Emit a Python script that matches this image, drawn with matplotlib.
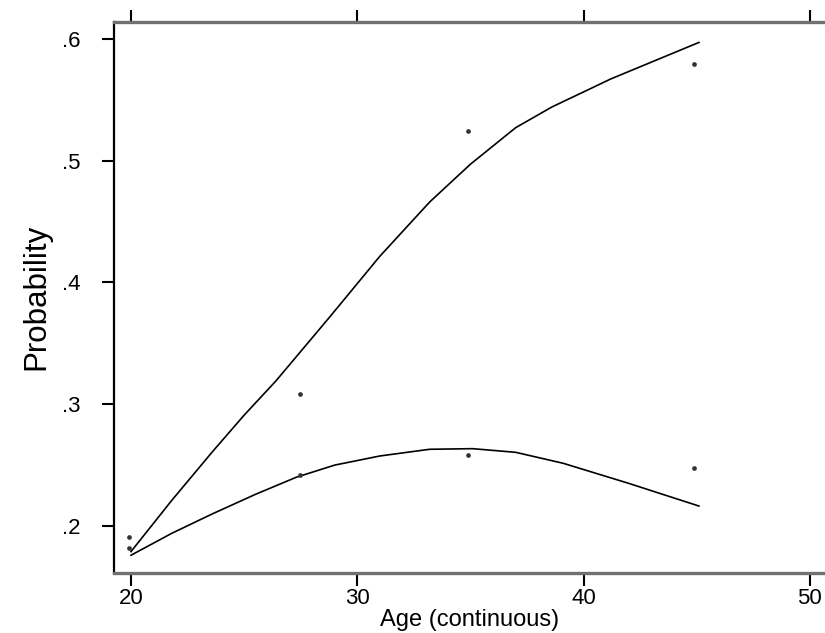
import matplotlib.pyplot as plt
import numpy as np

plt.rcParams['font.family'] = ['Liberation Sans', 'DejaVu Sans']

# observed proportions (dots)
age_obs = [19.9, 19.9, 27.45, 27.45, 34.9, 34.9, 44.9, 44.9]
prob_obs = [0.191, 0.182, 0.308, 0.242, 0.524, 0.258, 0.579, 0.248]

# fitted curves
age_up = [20.0, 21.8, 23.6, 25.0, 26.4, 28.8, 31.0, 33.2, 35.0, 37.0, 38.6, 40.3, 41.2, 42.5, 45.1]
prob_up = [0.179, 0.221, 0.261, 0.291, 0.319, 0.372, 0.4215, 0.466, 0.497, 0.527, 0.544, 0.559, 0.567, 0.577, 0.597]

age_lo = [20.0, 21.8, 23.6, 25.5, 27.3, 29.0, 31.0, 33.2, 35.1, 37.0, 39.1, 42.0, 45.1]
prob_lo = [0.176, 0.194, 0.210, 0.226, 0.2400, 0.2500, 0.2575, 0.2630, 0.2635, 0.2605, 0.2515, 0.235, 0.2164]

xticks = [20, 30, 40, 50]
yticks = [0.2, 0.3, 0.4, 0.5, 0.6]
yticklabels = ['.2', '.3', '.4', '.5', '.6']

fig = plt.figure(figsize=(8.25, 6.33), dpi=100)
ax = fig.add_axes([0.1382, 0.0953, 0.8618, 0.8704])

ax.plot(age_up, prob_up, color='black', lw=1.2)
ax.plot(age_lo, prob_lo, color='black', lw=1.2)
ax.plot(age_obs, prob_obs, 'o', color='#333333', ms=3.4, mec='none')

ax.set_xlim(19.25, 50.67)
ax.set_ylim(0.1617, 0.614)
ax.set_xticks(xticks)
ax.set_yticks(yticks)
ax.set_yticklabels(yticklabels)

ax.spines['right'].set_visible(False)
ax.spines['left'].set_linewidth(1.6)
ax.spines['left'].set_color('black')
for s in ['top', 'bottom']:
    ax.spines[s].set_linewidth(2.4)
    ax.spines[s].set_color('#707070')

ax.tick_params(axis='x', direction='out', length=9, width=1.5, top=True,
               labeltop=False, labelsize=16, pad=2)
ax.tick_params(axis='y', direction='out', length=9, width=1.5, labelsize=16, pad=15)

ax.set_xlabel('Age (continuous)', fontsize=17, labelpad=0)
ax.set_ylabel('Probability', fontsize=22.5, labelpad=8)

fig.savefig('out.png', dpi=100)
